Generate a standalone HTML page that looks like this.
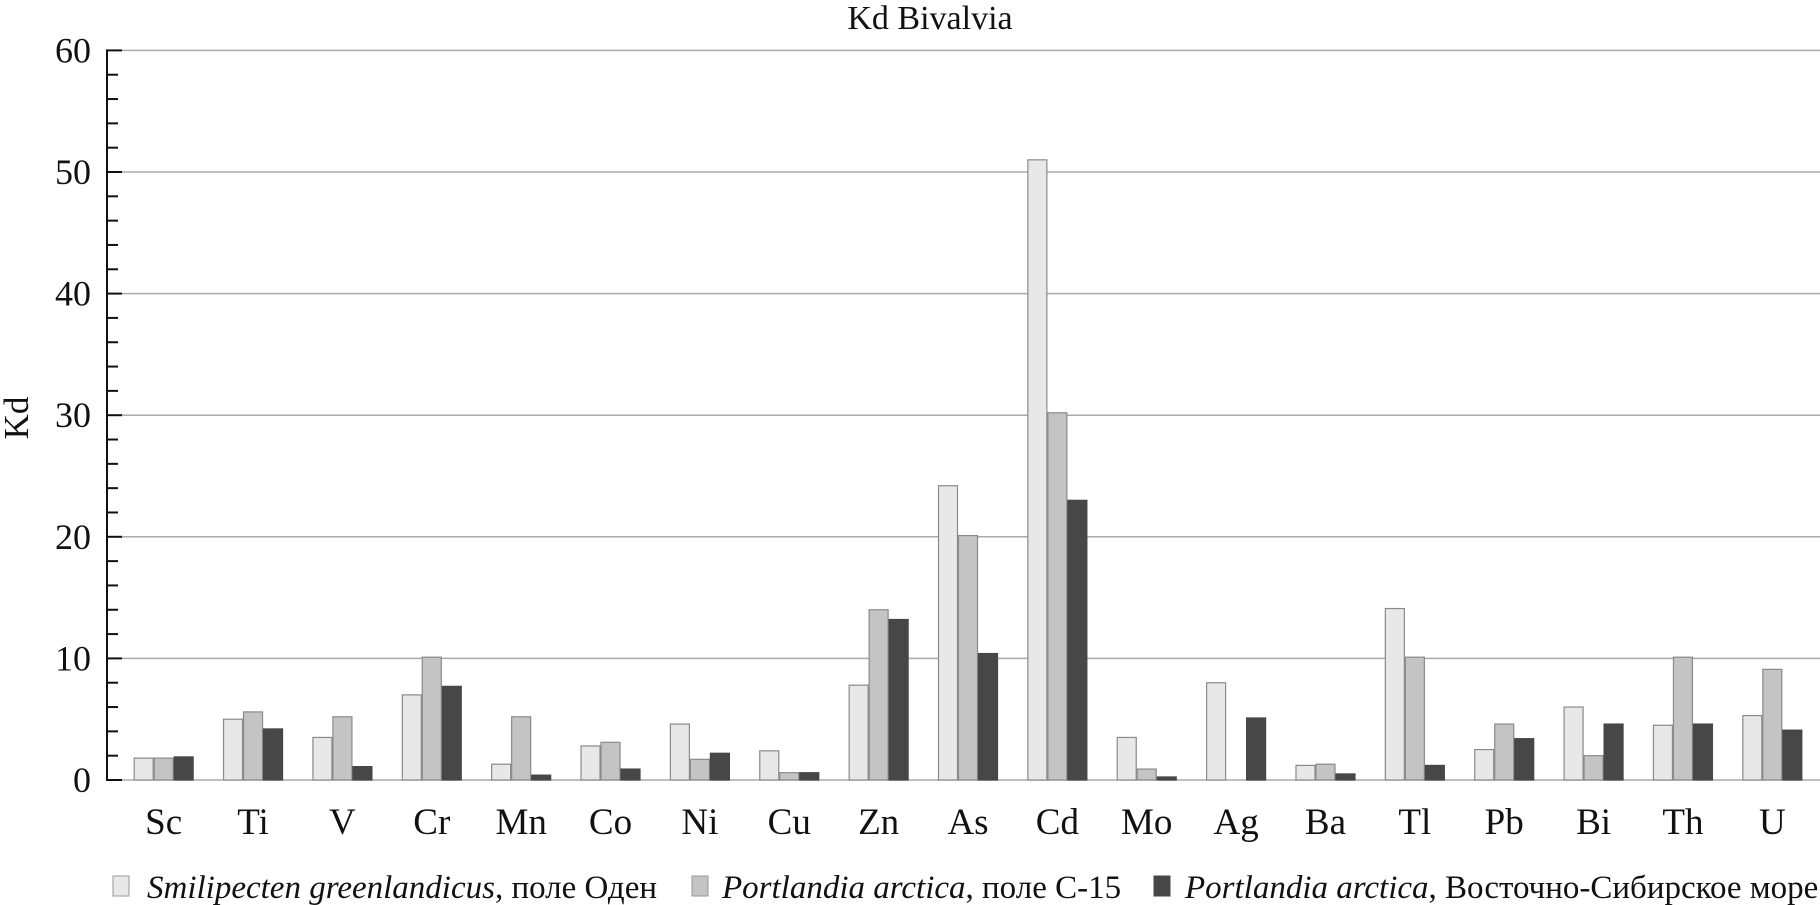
<!DOCTYPE html>
<html><head><meta charset="utf-8"><style>
body{margin:0;background:#fff;}
svg{display:block;}
text{font-family:"Liberation Serif",serif;fill:#111;}
</style></head><body>
<svg id="chart" width="1820" height="905" xmlns="http://www.w3.org/2000/svg"></svg>
<script>
const categories=["Sc","Ti","V","Cr","Mn","Co","Ni","Cu","Zn","As","Cd","Mo","Ag","Ba","Tl","Pb","Bi","Th","U"];
const seriesSmilipecten=[1.8,5.0,3.5,7.0,1.3,2.8,4.6,2.4,7.8,24.2,51.0,3.5,8.0,1.2,14.1,2.5,6.0,4.5,5.3];
const seriesPortlandiaC15=[1.8,5.6,5.2,10.1,5.2,3.1,1.7,0.6,14.0,20.1,30.2,0.9,0,1.3,10.1,4.6,2.0,10.1,9.1];
const seriesPortlandiaESS=[1.9,4.2,1.1,7.7,0.4,0.9,2.2,0.6,13.2,10.4,23.0,0.25,5.1,0.5,1.2,3.4,4.6,4.6,4.1];
const yTicks=[0,10,20,30,40,50,60];
const NS="http://www.w3.org/2000/svg";
const svg=document.getElementById('chart');
const X0=122,X1=1820,Y0=780,PPU=12.16;
const bw=(X1-X0)/categories.length;
function y(v){return Y0-v*PPU;}
function xc(i){return X0+(i+0.5)*bw;}
function mk(tag,attrs,txt){const e=document.createElementNS(NS,tag);for(const k in attrs)e.setAttribute(k,attrs[k]);if(txt!==undefined)e.textContent=txt;svg.appendChild(e);return e;}
let e;
e=mk('text',{x:930,y:29,'text-anchor':'middle','font-size':34},'Kd Bivalvia');


e=mk('text',{x:0,y:0,'text-anchor':'middle','font-size':35,transform:'translate(28,418) rotate(-90)'},'Kd');


yTicks.forEach(t=>{
  if(t>0){e=mk('line',{x1:X0,x2:X1,y1:y(t),y2:y(t),stroke:'#aaa','stroke-width':1.5});
  
  }
  e=mk('text',{x:91,y:y(t)+12,'text-anchor':'end','font-size':36},String(t));
  
  
  e=mk('line',{x1:107,x2:122,y1:y(t),y2:y(t),stroke:'#111','stroke-width':2});
  
  
});
for(let v=2;v<60;v+=2){if(v%10===0)continue;
  e=mk('line',{x1:107,x2:118,y1:y(v),y2:y(v),stroke:'#111','stroke-width':2});
  
  }
e=mk('line',{x1:107,x2:107,y1:y(60)-1,y2:Y0+1,stroke:'#111','stroke-width':2});


e=mk('line',{x1:122,x2:X1,y1:Y0,y2:Y0,stroke:'#aaa','stroke-width':1.5});


const series=[[seriesSmilipecten,'#e8e8e8','#8a8a8a',-23],[seriesPortlandiaC15,'#c4c4c4','#8a8a8a',-3],[seriesPortlandiaESS,'#474747','#474747',17]];
categories.forEach((c,i)=>{
  series.forEach((s,k)=>{
    const v=s[0][i]; if(v<=0)return;
    e=mk('rect',{x:xc(i)+s[3]-9.5,y:y(v),width:19,height:v*PPU,fill:s[1],stroke:s[2],'stroke-width':1.2});
    
    
  });
  e=mk('text',{x:xc(i)-3,y:834,'text-anchor':'middle','font-size':37},c);
  
  
});
const legend=[[113,147,'#e8e8e8','#999','Smilipecten greenlandicus',', поле Оден'],[692,722,'#c4c4c4','#999','Portlandia arctica',', поле С-15'],[1154,1185,'#474747','#474747','Portlandia arctica',', Восточно-Сибирское море']];
legend.forEach(l=>{
  e=mk('rect',{x:l[0],y:876,width:16,height:20,fill:l[2],stroke:l[3],'stroke-width':1});
  
  
  const t=mk('text',{x:l[1],y:898,'font-size':33});
  
  
  const a=document.createElementNS(NS,'tspan');a.setAttribute('font-style','italic');a.textContent=l[4];t.appendChild(a);
  const b=document.createElementNS(NS,'tspan');b.textContent=l[5];t.appendChild(b);
});
</script>
</body></html>
